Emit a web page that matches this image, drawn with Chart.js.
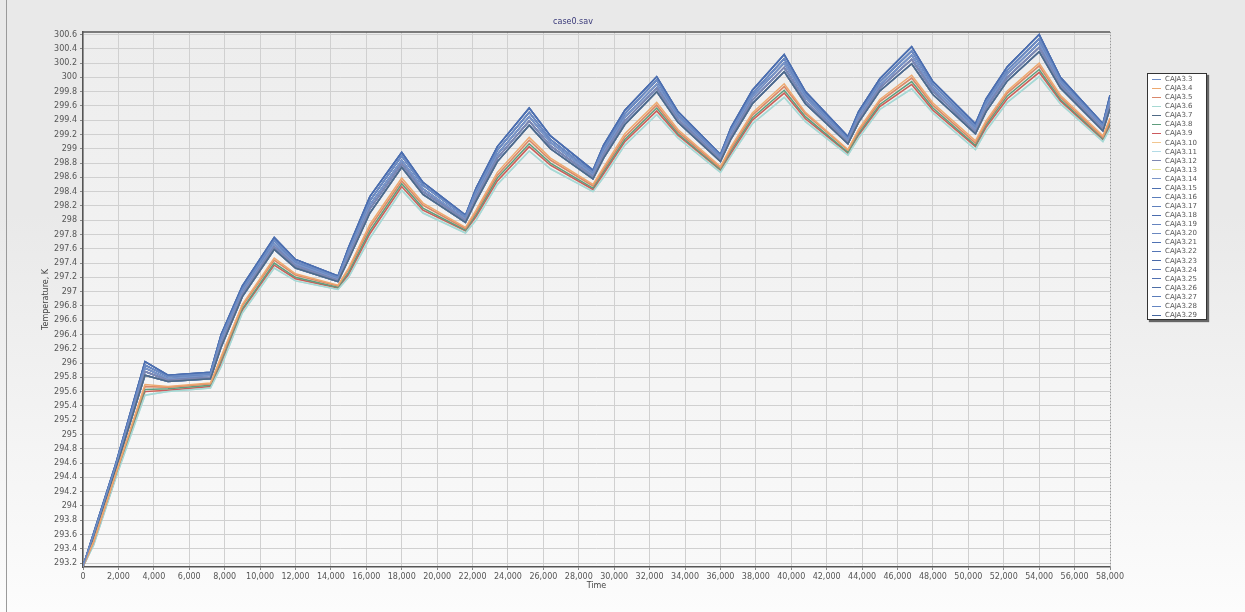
<!DOCTYPE html>
<html>
<head>
<meta charset="utf-8">
<script src="https://cdn.jsdelivr.net/npm/chart.js@4.4.1/dist/chart.umd.min.js"></script>
<style>
html, body { margin: 0; padding: 0; }
body { width: 1245px; height: 612px; overflow: hidden; position: relative;
       background: linear-gradient(#e9e9e9, #e9e9e9 35%, #fcfcfc);
       font-family: "DejaVu Sans", sans-serif; }
#chart { position: absolute; left: 0; top: 0; }
#frame { position: absolute; left: 6px; top: 0; height: 612px; border-left: 1px solid #9a9a9a; }
#legend { position: absolute; left: 1147px; top: 73px; width: 60px; height: 247px; box-sizing: border-box;
          background: #fff; border: 1px solid #333; box-shadow: 2px 2px 1px #666;
          font-size: 7px; color: #555; padding-top: 1px; }
.row { height: 9.08px; line-height: 9.08px; white-space: nowrap; }
.sw { display: inline-block; width: 9px; height: 0; border-top: 1px solid; vertical-align: middle; margin: 0 4px 0 4px; }
</style>
</head>
<body>
<div id="frame"></div>
<canvas id="chart" width="1245" height="612"></canvas>
<div id="legend"></div>
<script>
// time (s) of each sample
var times = [0, 600, 1800, 3500, 4800, 7200, 7800, 9000, 10800, 12000, 14400, 15000, 16200, 18000, 19200,
    21600, 22200, 23400, 25200, 26400, 28800, 29400, 30600, 32400, 33600, 36000, 36600, 37800, 39600, 40800,
    43200, 43800, 45000, 46800, 48000, 50400, 51000, 52200, 54000, 55200, 57600, 58000];

// temperature traces, warmest (top blue) to coolest (light teal)
var curveA = [293.15, 293.62, 294.55, 296.02, 295.83, 295.87, 296.40, 297.08, 297.76, 297.45, 297.22, 297.62, 298.33, 298.95, 298.53, 298.07, 298.45, 299.03, 299.57, 299.18, 298.70, 299.05, 299.54, 300.01, 299.52, 298.92, 299.30, 299.82, 300.32, 299.80, 299.17, 299.52, 299.98, 300.43, 299.94, 299.35, 299.70, 300.15, 300.60, 300.00, 299.35, 299.75];
var curveB1 = [293.15, 293.60, 294.53, 295.97, 295.81, 295.85, 296.36, 297.04, 297.72, 297.42, 297.20, 297.58, 298.27, 298.90, 298.49, 298.05, 298.41, 298.98, 299.51, 299.13, 298.67, 299.01, 299.49, 299.96, 299.48, 298.90, 299.26, 299.77, 300.26, 299.76, 299.14, 299.48, 299.94, 300.37, 299.90, 299.31, 299.66, 300.10, 300.54, 299.96, 299.33, 299.70];
var curveB2 = [293.15, 293.59, 294.51, 295.93, 295.78, 295.83, 296.31, 297.00, 297.67, 297.39, 297.18, 297.54, 298.21, 298.84, 298.44, 298.02, 298.36, 298.92, 299.45, 299.09, 298.64, 298.96, 299.44, 299.90, 299.45, 298.87, 299.22, 299.73, 300.20, 299.72, 299.12, 299.45, 299.89, 300.31, 299.85, 299.28, 299.61, 300.05, 300.48, 299.93, 299.30, 299.66];
var curveB3 = [293.15, 293.57, 294.49, 295.88, 295.76, 295.80, 296.27, 296.97, 297.63, 297.36, 297.16, 297.49, 298.16, 298.79, 298.40, 298.00, 298.32, 298.87, 299.39, 299.04, 298.61, 298.92, 299.39, 299.85, 299.41, 298.85, 299.18, 299.68, 300.14, 299.67, 299.09, 299.41, 299.85, 300.25, 299.81, 299.24, 299.57, 300.00, 300.42, 299.89, 299.28, 299.61];
var curveB4 = [293.15, 293.55, 294.47, 295.83, 295.74, 295.78, 296.22, 296.93, 297.59, 297.33, 297.14, 297.45, 298.10, 298.74, 298.36, 297.97, 298.27, 298.82, 299.33, 299.00, 298.58, 298.87, 299.34, 299.80, 299.37, 298.82, 299.14, 299.63, 300.08, 299.63, 299.07, 299.37, 299.81, 300.19, 299.76, 299.21, 299.52, 299.95, 300.36, 299.85, 299.25, 299.56];
var curveC1 = [293.15, 293.50, 294.41, 295.70, 295.67, 295.72, 296.09, 296.82, 297.47, 297.25, 297.09, 297.33, 297.94, 298.59, 298.24, 297.90, 298.14, 298.67, 299.16, 298.87, 298.50, 298.74, 299.21, 299.65, 299.27, 298.75, 299.03, 299.50, 299.91, 299.51, 298.99, 299.27, 299.69, 300.03, 299.64, 299.11, 299.39, 299.81, 300.20, 299.75, 299.18, 299.43];
var curveC2 = [293.15, 293.49, 294.40, 295.67, 295.66, 295.71, 296.06, 296.80, 297.44, 297.23, 297.08, 297.31, 297.90, 298.55, 298.21, 297.88, 298.11, 298.63, 299.12, 298.84, 298.48, 298.71, 299.17, 299.61, 299.24, 298.73, 299.00, 299.47, 299.87, 299.49, 298.98, 299.24, 299.66, 299.99, 299.61, 299.08, 299.36, 299.78, 300.16, 299.72, 299.16, 299.40];
var curveC3 = [293.15, 293.48, 294.38, 295.63, 295.64, 295.69, 296.03, 296.76, 297.40, 297.20, 297.06, 297.27, 297.85, 298.51, 298.17, 297.86, 298.08, 298.59, 299.07, 298.80, 298.45, 298.68, 299.13, 299.57, 299.21, 298.71, 298.97, 299.43, 299.82, 299.45, 298.95, 299.21, 299.62, 299.94, 299.57, 299.05, 299.33, 299.74, 300.11, 299.69, 299.14, 299.36];
var curveC4 = [293.15, 293.47, 294.37, 295.60, 295.62, 295.67, 295.99, 296.74, 297.37, 297.18, 297.05, 297.24, 297.81, 298.47, 298.14, 297.85, 298.05, 298.55, 299.03, 298.77, 298.43, 298.65, 299.10, 299.53, 299.19, 298.70, 298.94, 299.40, 299.78, 299.42, 298.94, 299.19, 299.59, 299.90, 299.54, 299.03, 299.30, 299.70, 300.07, 299.67, 299.13, 299.33];
var curveZ = [293.15, 293.45, 294.35, 295.55, 295.60, 295.65, 295.95, 296.70, 297.33, 297.15, 297.03, 297.20, 297.75, 298.42, 298.10, 297.82, 298.00, 298.50, 298.97, 298.72, 298.40, 298.60, 299.05, 299.48, 299.15, 298.67, 298.90, 299.35, 299.72, 299.38, 298.91, 299.15, 299.55, 299.84, 299.50, 298.99, 299.25, 299.65, 300.01, 299.63, 299.10, 299.28];

var seriesNames = ['CAJA3.3', 'CAJA3.4', 'CAJA3.5', 'CAJA3.6', 'CAJA3.7', 'CAJA3.8', 'CAJA3.9', 'CAJA3.10', 'CAJA3.11',
    'CAJA3.12', 'CAJA3.13', 'CAJA3.14', 'CAJA3.15', 'CAJA3.16', 'CAJA3.17', 'CAJA3.18', 'CAJA3.19', 'CAJA3.20',
    'CAJA3.21', 'CAJA3.22', 'CAJA3.23', 'CAJA3.24', 'CAJA3.25', 'CAJA3.26', 'CAJA3.27', 'CAJA3.28', 'CAJA3.29'];
var seriesCurves = [curveB1, curveC1, curveC2, curveZ, curveB4, curveC3, curveC4, curveC2, curveZ,
    curveB3, curveC4, curveB2, curveA, curveB1, curveB2, curveA, curveB3, curveB4,
    curveB1, curveB2, curveB3, curveB4, curveA, curveB2, curveB3, curveB4, curveB1];
var seriesColors = ['#6d8cc4', '#eda86f', '#d9876b', '#a6d9d3', '#4f6a86', '#5e9d7d', '#cc5a5e', '#f2c690', '#b3dbe6',
    '#7f88b2', '#e6e39c', '#7a95c8', '#4c6fb0', '#5a7dbb', '#5e80bd', '#4a6cae', '#6584bf', '#6a88c0',
    '#4f72b4', '#5576b6', '#4a6aa8', '#5878b8', '#5070b2', '#4d6ea6', '#5a7cba', '#6485c2', '#46679f'];

var datasets = [];
seriesNames.forEach(function(name, i) {
    var pts = [];
    times.forEach(function(t, j) { pts.push({x: t, y: seriesCurves[i][j]}); });
    datasets.push({
        label: name,
        data: pts,
        borderColor: seriesColors[i],
        borderWidth: 1.5,
        pointRadius: 0,
        fill: false,
        tension: 0
    });
});

// plot background + frame + title
var decor = {
    id: 'decor',
    beforeDraw: function(chart) {
        var a = chart.chartArea, ctx = chart.ctx;
        var g = ctx.createLinearGradient(0, a.top, 0, a.bottom);
        g.addColorStop(0, '#ededed');
        g.addColorStop(1, '#f9f9f9');
        ctx.save();
        ctx.fillStyle = g;
        ctx.fillRect(a.left, a.top, a.right - a.left, a.bottom - a.top);
        ctx.restore();
    },
    afterDraw: function(chart) {
        var a = chart.chartArea, ctx = chart.ctx;
        ctx.save();
        ctx.strokeStyle = '#555';
        ctx.lineWidth = 1.5;
        ctx.beginPath();
        ctx.moveTo(a.left, a.top);
        ctx.lineTo(a.right, a.top);
        ctx.stroke();
        ctx.strokeStyle = '#999';
        ctx.lineWidth = 1;
        ctx.setLineDash([1, 2]);
        ctx.beginPath();
        ctx.moveTo(a.right + 0.5, a.top);
        ctx.lineTo(a.right + 0.5, a.bottom);
        ctx.stroke();
        ctx.setLineDash([]);
        ctx.fillStyle = '#3a3a7a';
        ctx.font = '8px "DejaVu Sans"';
        ctx.textAlign = 'center';
        ctx.textBaseline = 'middle';
        ctx.fillText('case0.sav', 573, 22);
        ctx.restore();
    }
};

var tickFont = {family: '"DejaVu Sans", sans-serif', size: 8};

new Chart(document.getElementById('chart'), {
    type: 'line',
    data: {datasets: datasets},
    options: {
        responsive: false,
        animation: false,
        layout: {padding: {left: 0, top: 32, right: 135, bottom: 0}},
        plugins: {legend: {display: false}, tooltip: {enabled: false}},
        scales: {
            x: {
                type: 'linear', min: 0, max: 58000,
                afterFit: function(s) { s.height = 45; },
                ticks: {stepSize: 2000, autoSkip: false, maxRotation: 0, padding: 2, color: '#555', font: tickFont},
                grid: {color: '#d0d0d0', tickLength: 3, tickColor: '#888'},
                border: {color: '#555', width: 1.5},
                title: {display: true, text: 'Time', color: '#444', font: tickFont, padding: {top: 0, bottom: 21}}
            },
            y: {
                min: 293.144, max: 300.635,
                afterFit: function(s) { s.width = 83; },
                ticks: {
                    stepSize: 0.2, includeBounds: false, autoSkip: false, padding: 3, color: '#555', font: tickFont,
                    callback: function(v) { return String(parseFloat(v.toFixed(1))); }
                },
                grid: {color: '#d0d0d0', tickLength: 3, tickColor: '#888'},
                border: {color: '#555', width: 1.5},
                title: {display: true, text: 'Temperature, K', color: '#444', font: tickFont, padding: {top: 41, bottom: 0}}
            }
        }
    },
    plugins: [decor]
});

// legend box
var leg = document.getElementById('legend');
seriesNames.forEach(function(name, i) {
    leg.innerHTML += '<div class="row"><span class="sw" style="border-color:' + seriesColors[i] + '"></span>' + name + '</div>';
});
</script>
</body>
</html>
